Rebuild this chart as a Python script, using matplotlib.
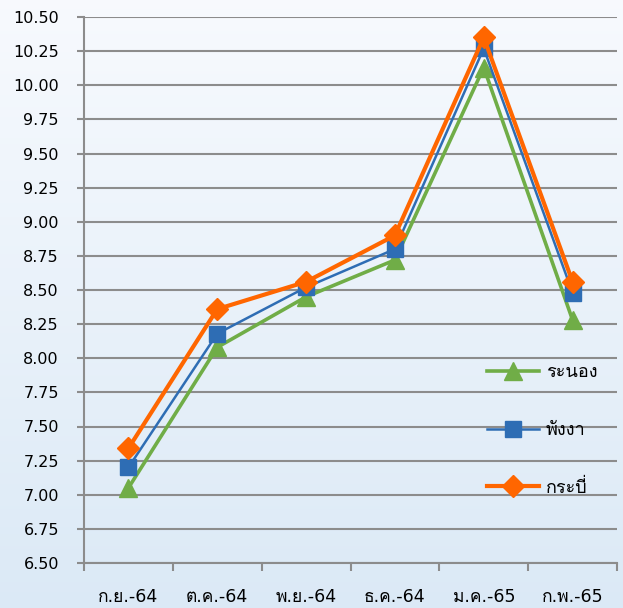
import numpy as np
import matplotlib
matplotlib.use("Agg")
import matplotlib.pyplot as plt
from matplotlib import font_manager
from matplotlib.ft2font import FT2Font

# find a font that has Thai glyphs
thai_font = None
for f in font_manager.fontManager.ttflist:
    try:
        if ord("ก") in FT2Font(f.fname).get_charmap():
            thai_font = f.name
            break
    except Exception:
        pass
fams = ["DejaVu Sans"] + ([thai_font] if thai_font else [])
plt.rcParams["font.family"] = fams

months = ["ก.ย.-64", "ต.ค.-64", "พ.ย.-64", "ธ.ค.-64", "ม.ค.-65", "ก.พ.-65"]
ranong = [7.05, 8.08, 8.45, 8.72, 10.13, 8.28]
phangnga = [7.20, 8.18, 8.52, 8.80, 10.27, 8.48]
krabi = [7.34, 8.36, 8.56, 8.90, 10.35, 8.56]
yticks = np.arange(6.5, 10.51, 0.25)

fig = plt.figure(figsize=(6.23, 6.08), dpi=100)

# light blue gradient background
bg = fig.add_axes([0, 0, 1, 1], zorder=-1)
grad = np.linspace(0, 1, 256).reshape(-1, 1)
top = np.array([0.97, 0.98, 0.995])
bot = np.array([0.86, 0.915, 0.965])
img = top + grad[..., None] * (bot - top)
bg.imshow(img, aspect="auto", extent=[0, 1, 0, 1])
bg.axis("off")

ax = fig.add_axes([84 / 623, 1 - 563 / 608, 533 / 623, 546 / 608])
ax.set_facecolor("none")
x = np.arange(len(months))

ax.plot(x, ranong, color="#70ad47", lw=2.6, marker="^", ms=13, label="ระนอง", zorder=3)
ax.plot(x, phangnga, color="#2e6db4", lw=1.8, marker="s", ms=11, label="พังงา", zorder=4)
ax.plot(x, krabi, color="#ff6600", lw=3, marker="D", ms=11, label="กระบี่", zorder=5)

ax.set_xlim(-0.5, len(months) - 0.5)
ax.set_ylim(6.5, 10.5)
ax.set_yticks(yticks)
ax.set_yticklabels([f"{v:.2f}" for v in yticks])
ax.yaxis.grid(True, color="#8c8c8c", lw=1.5)
ax.set_axisbelow(True)

# category boundaries as major ticks, labels at centres
ax.set_xticks(np.arange(-0.5, len(months), 1.0))
ax.set_xticklabels([])
ax.set_xticks(x, minor=True)
ax.set_xticklabels(months, minor=True)
ax.tick_params(axis="x", which="major", length=6, width=1.5, color="#8c8c8c")
ax.tick_params(axis="x", which="minor", length=0, pad=18, labelsize=12.5)
ax.tick_params(axis="y", length=5, width=1.5, color="#8c8c8c", pad=13, labelsize=11.5)

for s in ["top", "right"]:
    ax.spines[s].set_visible(False)
for s in ["left", "bottom"]:
    ax.spines[s].set_color("#8c8c8c")
    ax.spines[s].set_linewidth(1.5)

ax.legend(loc="center left", bbox_to_anchor=(487 / 623, 1 - 430 / 608),
          bbox_transform=fig.transFigure, frameon=False, numpoints=1,
          fontsize=13, handlelength=2.9, handletextpad=0.35, labelspacing=2.2,
          borderpad=0, borderaxespad=0)

fig.savefig("out.png", dpi=100)
